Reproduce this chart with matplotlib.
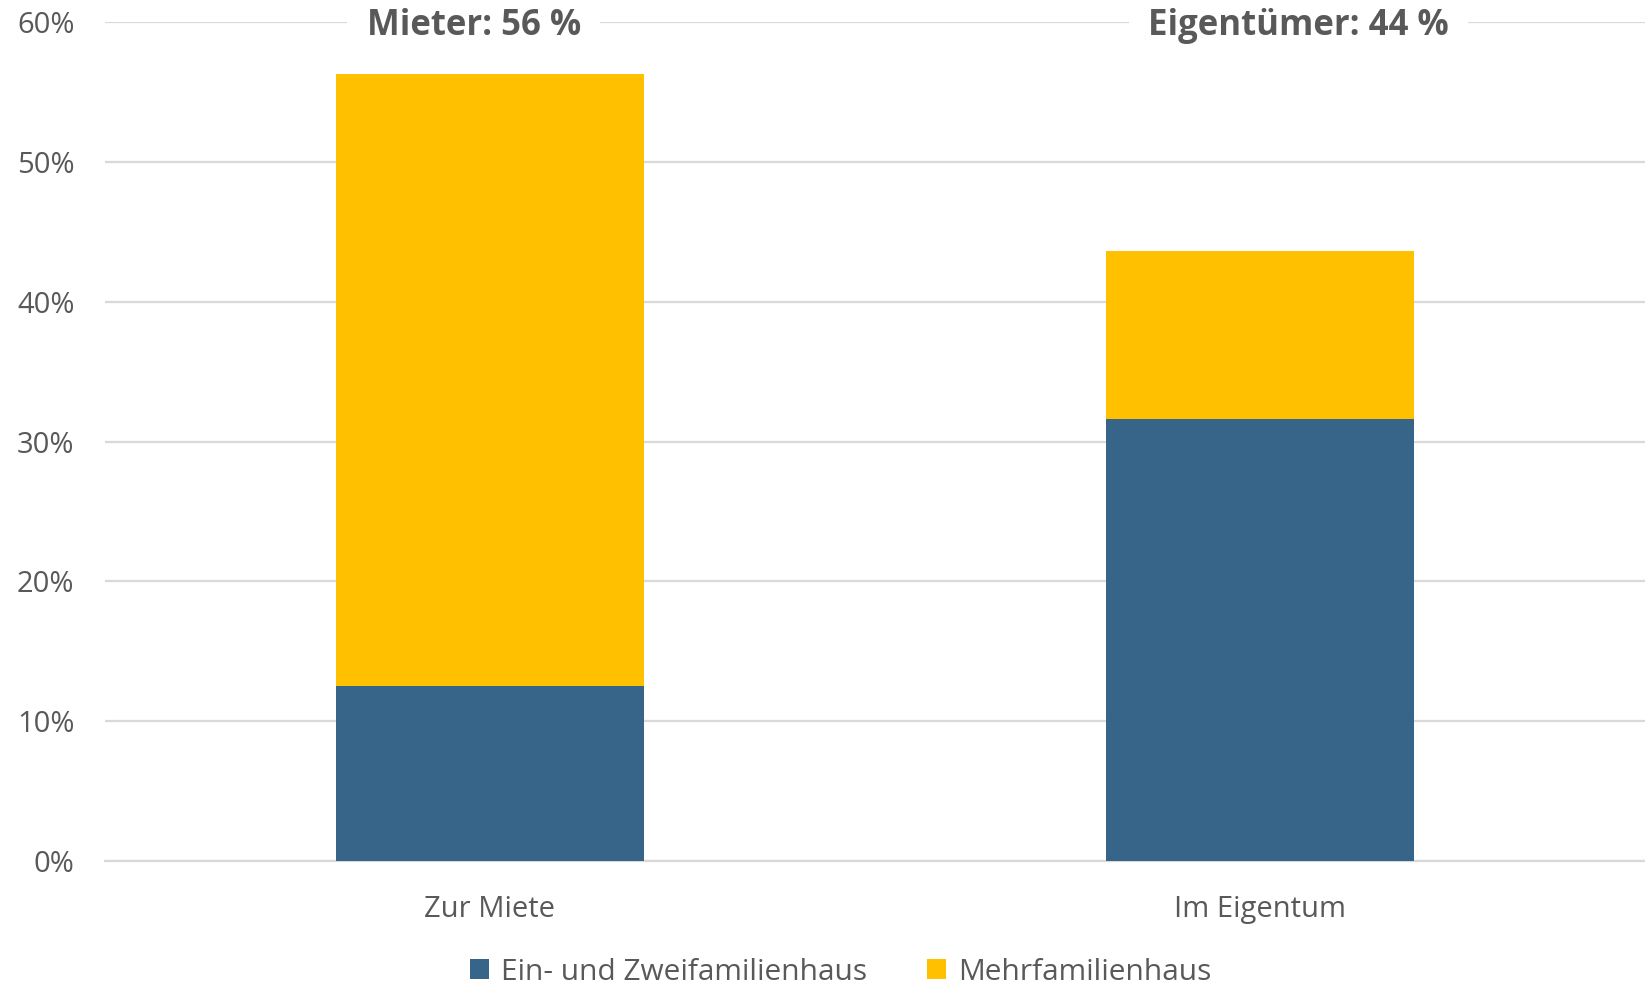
import matplotlib.pyplot as plt
import numpy as np

# data
categories = ['Zur Miete', 'Im Eigentum']
ein_zwei = [12.5, 31.6]
mehr = [43.8, 12.0]
labels = ['Ein- und Zweifamilienhaus', 'Mehrfamilienhaus']
group_titles = ['Mieter: 56 %', 'Eigentümer: 44 %']

blue = '#376489'
yellow = '#ffc000'
text_col = '#595959'
grid_col = '#d9d9d9'

plt.rcParams['font.family'] = ['Open Sans', 'DejaVu Sans']

fig = plt.figure(figsize=(16.45, 9.9), dpi=100)
ax = fig.add_axes([0.0638, 0.130, 0.9362, 0.848])

x = np.arange(len(categories))
ax.bar(x, ein_zwei, 0.4, color=blue, label=labels[0], zorder=3)
ax.bar(x, mehr, 0.4, bottom=ein_zwei, color=yellow, label=labels[1], zorder=3)

ax.set_xlim(-0.5, 1.5)
ax.set_ylim(0, 60)
ax.set_yticks(np.arange(0, 61, 10))
ax.set_yticklabels(['%d%%' % v for v in range(0, 61, 10)])
ax.set_xticks(x)
ax.set_xticklabels(categories)
ax.yaxis.grid(True, color=grid_col, linewidth=1.6, zorder=0)
ax.set_axisbelow(True)
for s in ['top', 'right', 'left']:
    ax.spines[s].set_visible(False)
ax.spines['bottom'].set_color(grid_col)
ax.spines['bottom'].set_linewidth(1.6)
ax.tick_params(axis='both', length=0, labelsize=21, labelcolor=text_col)
ax.tick_params(axis='y', pad=22)
ax.tick_params(axis='x', pad=24)

# group headers sitting on the 60% gridline
for xpos, t in zip([-0.021, 1.05], group_titles):
    ax.text(xpos, 60, t, ha='center', va='center_baseline', fontsize=25, fontweight='bold',
            color=text_col, zorder=5, clip_on=False,
            bbox=dict(facecolor='white', edgecolor='none', pad=14))

fig.legend(loc='lower center', ncol=2, frameon=False, fontsize=21.5,
           bbox_to_anchor=(0.511, -0.024), handlelength=0.65, handleheight=0.65,
           columnspacing=2.0, handletextpad=0.4, labelcolor=text_col)

fig.savefig('out.png', dpi=100)
